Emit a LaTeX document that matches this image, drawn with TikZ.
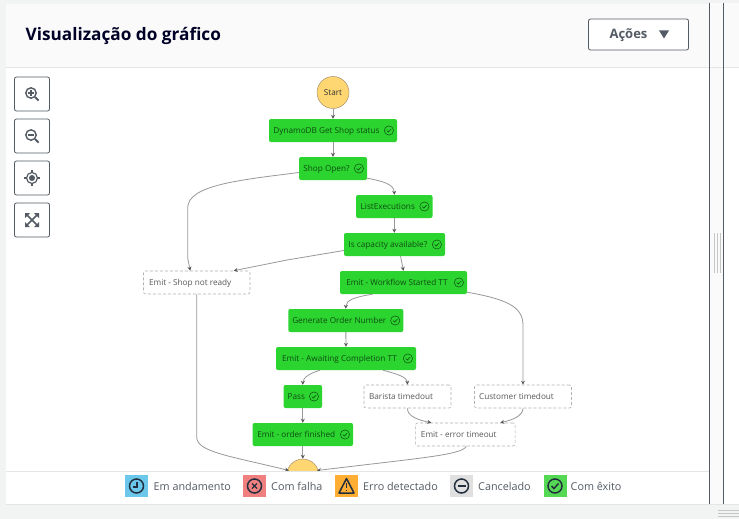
\documentclass[tikz,border=0pt]{standalone}
\usepackage{fontspec}
\setmainfont{Open Sans}
\usetikzlibrary{arrows.meta}
\definecolor{okgreen}{HTML}{2CD42F}
\definecolor{oktext}{HTML}{0F4D14}
\definecolor{startyellow}{HTML}{FFD772}
\definecolor{edgegray}{HTML}{989898}
\definecolor{uidark}{HTML}{545B64}
\definecolor{uilight}{HTML}{F2F3F3}
\definecolor{headbg}{HTML}{FAFAFA}
\definecolor{rulegray}{HTML}{E3E5E6}
\definecolor{legblue}{HTML}{6BC8EA}
\definecolor{legred}{HTML}{F08080}
\definecolor{legorange}{HTML}{FFAD33}
\definecolor{leggray}{HTML}{E0E0E0}
\definecolor{leggreen}{HTML}{55D955}
\definecolor{iconink}{HTML}{232F3E}
\tikzset{
  statefont/.style={font=\fontsize{8.2}{10}\selectfont,text height=7pt,text depth=1pt},
  okbox/.style={draw=none,fill=okgreen,rounded corners=2pt,inner sep=0pt,minimum height=23pt,text=oktext,statefont},
  idlebox/.style={draw=gray!60,densely dashed,line width=.6pt,fill=white,rounded corners=2pt,inner sep=0pt,minimum height=23pt,text=black!65,statefont},
  endpoint/.style={circle,draw=gray!80!orange,line width=.4pt,fill=startyellow,minimum size=32pt,inner sep=0pt,text=black!80,statefont},
  edge/.style={draw=edgegray,line width=.8pt,-{Stealth[length=4pt,width=4pt,color=black!65]}},
  toolbtn/.style={draw=uidark,line width=.8pt,rounded corners=2pt,fill=white,minimum width=35pt,minimum height=34pt,inner sep=0pt},
  legendbox/.style={minimum width=23pt,minimum height=22pt,inner sep=0pt},
  legendtext/.style={anchor=west,inner sep=0pt,text=uidark,font=\fontsize{10.8}{13}\selectfont},
  okmark/.pic={
    \draw[oktext,line width=.5pt] (0,0) circle (4.6);
    \draw[oktext,line width=.6pt] (-2.2,0) -- (-.6,1.6) -- (2.3,-1.5);
  }
}
\newcommand{\padtext}[1]{#1\hspace*{13pt}}
\begin{document}
\begin{tikzpicture}[x=1pt,y=-1pt]
\useasboundingbox (0,0) rectangle (739,519);
% page ground
\fill[uilight] (0,0) rectangle (739,519);
\fill[white] (6,4) rectangle (709,504);
\fill[headbg] (6,4) rectangle (709,67);
\draw[rulegray,line width=.8pt] (6,67.5) -- (739,67.5);
\fill[headbg] (710,3) rectangle (723,504);
\fill[white] (724,3) rectangle (739,504);
\fill[headbg] (724,3) rectangle (739,67);
\draw[rulegray,line width=.8pt] (710,67.5) -- (739,67.5);
% title
\node[anchor=west,inner sep=0pt,text=black!85!blue,font=\fontsize{17.2}{20}\selectfont\bfseries] (title) at (25.5,35.5) {Visualização do gráfico};
\node[draw=uidark,line width=.8pt,rounded corners=2pt,fill=white,minimum width=100pt,minimum height=31pt,inner sep=0pt] (acoes) at (638.5,34.5) {};
\node[text=uidark,inner sep=0pt,font=\fontsize{13}{15}\selectfont\bfseries] (acoestext) at (628.5,35.5) {Ações};
\fill[uidark] (659,30.5) -- (669,30.5) -- (664,38.5) -- cycle;
% tool buttons
\node[toolbtn] (b1) at (32,94) {};
\node[toolbtn] (b2) at (32,136) {};
\node[toolbtn] (b3) at (32,178) {};
\node[toolbtn] (b4) at (32,220) {};
\begin{scope}[uidark]
  \draw[line width=1.4pt] (31,93) circle (5.2); \draw[line width=2pt] (35,97) -- (38.5,100.5);
  \draw[line width=1.2pt] (28,93) -- (34,93) (31,90) -- (31,96);
  \draw[line width=1.4pt] (31,135) circle (5.2); \draw[line width=2pt] (35,139) -- (38.5,142.5);
  \draw[line width=1.2pt] (28,135) -- (34,135);
  \draw[line width=1.2pt] (32,178) circle (5.5); \fill (32,178) circle (3);
  \draw[line width=1.2pt] (32,170) -- (32,172) (32,184) -- (32,186) (24,178) -- (26,178) (38,178) -- (40,178);
  \draw[line width=1.6pt] (27,215) -- (37,225) (37,215) -- (27,225);
  \fill (25,213) -- (30,213) -- (25,218) -- cycle (39,213) -- (34,213) -- (39,218) -- cycle
        (25,227) -- (30,227) -- (25,222) -- cycle (39,227) -- (34,227) -- (39,222) -- cycle;
\end{scope}
% states
\node[endpoint] (start) at (333,92.5) {Start};
\node[okbox,minimum width=128pt] (dyn) at (333,130.5) {\padtext{DynamoDB Get Shop status}};
\node[okbox,minimum width=68pt] (open) at (333,168.5) {\padtext{Shop Open?}};
\node[okbox,minimum width=76.5pt] (list) at (394.3,206.5) {\padtext{ListExecutions}};
\node[okbox,minimum width=101pt] (cap) at (394.5,244.5) {\padtext{Is capacity available?}};
\node[idlebox,minimum width=106.5pt] (notready) at (196.7,282.5) {\padtext{Emit - Shop not ready}};
\node[okbox,minimum width=127pt] (flow) at (403.5,282.5) {\padtext{Emit - Workflow Started TT}};
\node[okbox,minimum width=115pt] (gen) at (345.8,320.5) {\padtext{Generate Order Number}};
\node[okbox,minimum width=140pt] (await) at (346,358.5) {\padtext{Emit - Awaiting Completion TT}};
\node[okbox,minimum width=38.5pt] (pass) at (302.8,396.5) {\padtext{Pass}};
\node[okbox,minimum width=100.5pt] (order) at (302.8,434.5) {\padtext{Emit - order finished}};
\node[idlebox,minimum width=87pt] (barista) at (407.5,396.5) {\padtext{Barista timedout}};
\node[idlebox,minimum width=97pt] (customer) at (523,396.5) {\padtext{Customer timedout}};
\node[idlebox,minimum width=99.5pt] (errort) at (465.3,434.5) {\padtext{Emit - error timeout}};
\node[endpoint] (fim) at (302.8,475) {End};
\foreach \n in {dyn,open,list,cap,flow,gen,await,pass,order}{
  \pic at ([xshift=-8.3pt]\n.east) {okmark};
}
% connectors
\draw[edge] (start) -- (dyn);
\draw[edge] (dyn) -- (open);
\draw[edge] ([yshift=2pt]open.south east) .. controls (382,181) and (394,184) .. (list.north);
\draw[edge] (list) -- (list|-cap.north);
\draw[edge] ([yshift=-4pt]open.west) .. controls (240,180) and (187.7,185) .. (187.7,208) -- (187.7,258) -- ([xshift=-6.5pt]notready.north);
\draw[edge] ([yshift=-6pt]cap.west) -- (287,260) -- ([xshift=37pt]notready.north);
\draw[edge] ([xshift=6pt]cap.south) -- (flow.north);
\draw[edge] ([xshift=-31pt]flow.south) .. controls (355,297) and (346,300) .. (gen.north);
\draw[edge] ([yshift=2pt]flow.south east) .. controls (505,299) and (523,306) .. (523,325) -- (customer.north);
\draw[edge] (gen) -- (await);
\draw[edge] ([xshift=-26pt]await.south) .. controls (311,373) and (303,377) .. (pass.north);
\draw[edge] ([xshift=37pt]await.south) .. controls (397,374) and (407,377) .. (barista.north);
\draw[edge] (pass) -- (order);
\draw[edge] (order) -- (fim);
\draw[edge] (barista.south) .. controls (407,416) and (418,420) .. ([xshift=-34pt]errort.north);
\draw[edge] (customer.south) .. controls (523,416) and (512,420) .. ([xshift=35pt]errort.north);
\draw[edge] ([xshift=1pt]errort.south) .. controls (462,455) and (420,458) .. (317,470.5);
\draw[edge] (notready.south) -- (196.7,437) .. controls (196.7,452) and (230,456) .. (289,470.5);
% legend band
\fill[white] (6,471) rectangle (709,504);
\draw[rulegray,line width=.8pt] (6,471.5) -- (709,471.5);
\draw[rulegray,line width=.8pt] (6,504.5) -- (739,504.5);
\fill[uilight] (7,505.5) rectangle (739,519);
\draw[uidark,line width=.9pt] (709.5,3) -- (709.5,504);
\draw[uidark,line width=.9pt] (723.5,3) -- (723.5,504);
\draw[rulegray!70!gray,line width=.7pt] (714.5,233) -- (714.5,273) (717.5,233) -- (717.5,273) (720.5,233) -- (720.5,273);
\draw[rulegray!70!gray,line width=.7pt] (718,510.5) -- (739,510.5) (718,513.5) -- (739,513.5) (718,516.5) -- (739,516.5);
\node[legendbox,fill=legblue] (l1) at (136.5,486) {};
\node[legendbox,fill=legred] (l2) at (254.5,486) {};
\node[legendbox,fill=legorange] (l3) at (346.5,486) {};
\node[legendbox,fill=leggray] (l4) at (461.5,486) {};
\node[legendbox,fill=leggreen] (l5) at (555,486) {};
\node[legendtext] (t1) at (153.5,486) {Em andamento};
\node[legendtext] (t2) at (271,486) {Com falha};
\node[legendtext] (t3) at (363,486) {Erro detectado};
\node[legendtext] (t4) at (478,486) {Cancelado};
\node[legendtext] (t5) at (570.5,486) {Com êxito};
\begin{scope}[iconink,line width=1.5pt]
  \draw (136.5,486) circle (7); \draw[line width=1.2pt] (137,481.5) -- (137,487) -- (133,487);
  \draw (254.5,486) circle (7); \draw[line width=1.4pt] (252,483.5) -- (257,488.5) (257,483.5) -- (252,488.5);
  \draw[line join=round] (346.5,478.5) -- (354,493) -- (339,493) -- cycle;
  \draw[line width=1.2pt] (346.5,483) -- (346.5,488) (346.5,489.5) -- (346.5,491);
  \draw (461.5,486) circle (7); \draw (457.5,486) -- (465.5,486);
  \draw (555,486) circle (7); \draw (551.5,486) -- (554,488.5) -- (558.5,483.5);
\end{scope}
\end{tikzpicture}
\end{document}
